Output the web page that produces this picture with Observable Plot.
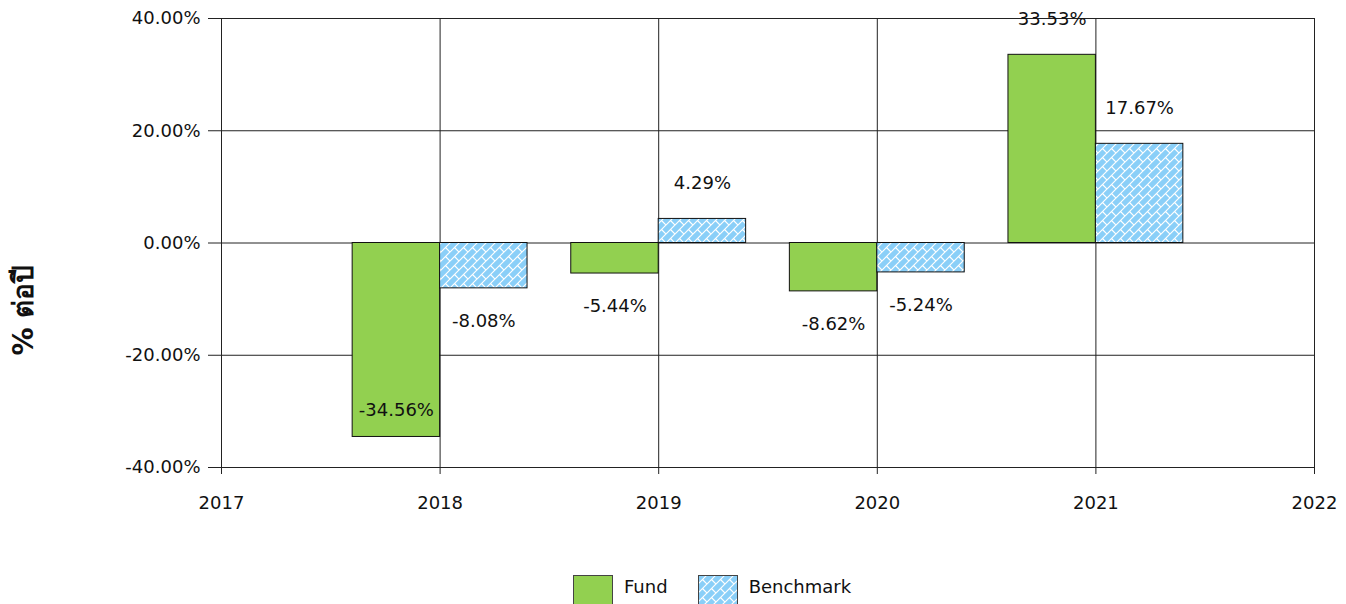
<!DOCTYPE html>
<html>
<head>
<meta charset="utf-8">
<script src="https://cdn.jsdelivr.net/npm/d3@7"></script>
<script src="https://cdn.jsdelivr.net/npm/@observablehq/plot@0.6"></script>
<style>
  html, body { margin: 0; padding: 0; background: #fff; }
  body { width: 1346px; height: 604px; position: relative; overflow: hidden; font-family: "DejaVu Sans", sans-serif; }
  #legend { position: absolute; left: 573px; top: 575px; display: flex; align-items: flex-start; font-size: 18px; color: #111; }
  #legend .item { display: flex; align-items: flex-start; margin-right: 30px; }
  #legend .lbl { margin-left: 11px; line-height: 24px; }
  #legend svg { display: block; }
</style>
</head>
<body>
<div id="chart"></div>
<div id="legend"></div>
<script>
const years = [2018, 2019, 2020, 2021];
const fund = [-34.56, -5.44, -8.62, 33.53];
const benchmark = [-8.08, 4.29, -5.24, 17.67];
const seriesNames = ["Fund", "Benchmark"];
const xTicks = [2017, 2018, 2019, 2020, 2021, 2022];
const yTicks = [-40, -20, 0, 20, 40];
const yTitle = "% ต่อปี";

const colors = { Fund: "#92D050", Benchmark: "url(#brick)" };
const blue = "#8ACFF8";

const rows = [];
years.forEach((yr, i) => {
  rows.push({ year: yr, series: "Fund", value: fund[i] });
  rows.push({ year: yr, series: "Benchmark", value: benchmark[i] });
});
const bw = 0.4;
const x1 = d => d.series === "Fund" ? d.year - bw : d.year;
const x2 = d => d.series === "Fund" ? d.year : d.year + bw;
const xc = d => (x1(d) + x2(d)) / 2;
const pct = v => v.toFixed(2) + "%";

function brickPattern(id) {
  const defs = d3.create("svg:defs");
  const p = defs.append("pattern").attr("id", id).attr("patternUnits", "userSpaceOnUse")
    .attr("width", 9).attr("height", 9);
  p.append("rect").attr("width", 9).attr("height", 9).attr("fill", blue);
  p.append("path").attr("d", "M-1,10 L10,-1 M-1,1 L1,-1 M8,10 L10,8 M4.5,4.5 L9,9")
    .attr("stroke", "#fff").attr("stroke-width", 1.2).attr("fill", "none");
  return defs;
}

const chart = Plot.plot({
  width: 1346,
  height: 565,
  marginLeft: 221,
  marginRight: 32,
  marginTop: 18,
  marginBottom: 98,
  style: { fontFamily: "DejaVu Sans, sans-serif", fontSize: "18px", color: "#111", background: "#fff", overflow: "visible" },
  x: { type: "linear", domain: [2017, 2022] },
  y: { domain: [-40, 40] },
  marks: [
    () => brickPattern("brick").node(),
    Plot.gridY(yTicks, { stroke: "#222", strokeOpacity: 1, strokeWidth: 1 }),
    Plot.gridX(xTicks, { stroke: "#222", strokeOpacity: 1, strokeWidth: 1 }),
    Plot.axisY(yTicks, { tickSize: 13, tickPadding: 8, tickFormat: pct, label: null, stroke: "#222" }),
    Plot.axisX(xTicks, { tickSize: 7, tickPadding: 22, tickFormat: d => String(d), label: null, stroke: "#222" }),
    Plot.rect(rows, { x1, x2, y1: 0, y2: "value", fill: d => colors[d.series], stroke: "#111", strokeWidth: 1 }),
    Plot.text(rows.filter(d => d.value >= 0), { x: xc, y: "value", text: d => pct(d.value), dy: -36, fill: "#111" }),
    Plot.text(rows.filter(d => d.value < 0 && d.value > -30), { x: xc, y: "value", text: d => pct(d.value), dy: 33, fill: "#111" }),
    Plot.text(rows.filter(d => d.value <= -30), { x: xc, y: "value", text: d => pct(d.value), dy: -27, fill: "#111" })
  ]
});

d3.select(chart).append("text")
  .attr("transform", "translate(25,310) rotate(-90)")
  .attr("text-anchor", "middle")
  .attr("dominant-baseline", "middle")
  .attr("font-size", 28)
  .attr("font-weight", "bold")
  .attr("fill", "#111")
  .text(yTitle);

document.getElementById("chart").appendChild(chart);

const legend = d3.select("#legend");
seriesNames.forEach((name, i) => {
  const item = legend.append("div").attr("class", "item");
  const s = item.append("svg").attr("width", 40).attr("height", 32);
  if (name === "Benchmark") s.node().appendChild(brickPattern("brickLegend").node());
  s.append("rect").attr("x", 0.5).attr("y", 0.5).attr("width", 39).attr("height", 31)
    .attr("fill", name === "Fund" ? colors.Fund : "url(#brickLegend)")
    .attr("stroke", "#444").attr("stroke-width", 1);
  item.append("span").attr("class", "lbl").text(name);
});
</script>
</body>
</html>
